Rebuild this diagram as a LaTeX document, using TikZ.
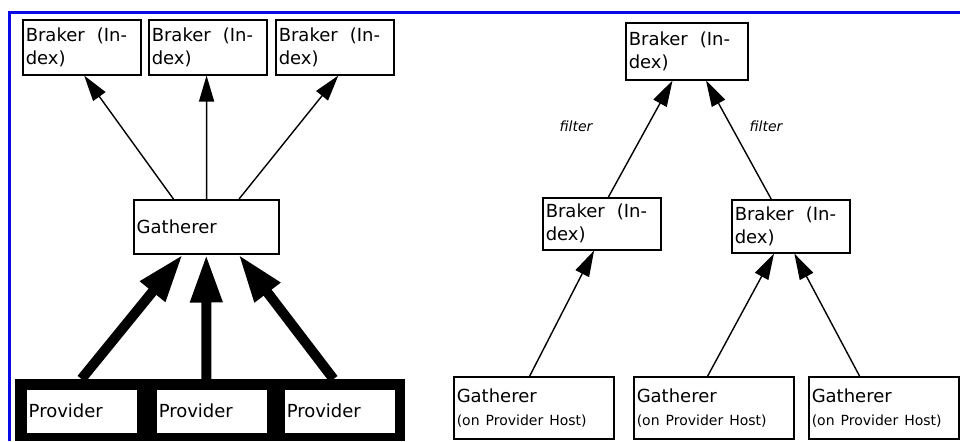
\documentclass[tikz,border=0pt]{standalone}
\usepackage{fontspec}
\usepackage{xcolor}
\usepackage{tikz}
\usetikzlibrary{positioning,calc,arrows.meta}
\newfontfamily\boxfont{DejaVu Sans}
\definecolor{frameblue}{RGB}{10,10,230}
\tikzset{
  box/.style={draw, line width=0.75pt, fill=white, inner sep=1.5pt, align=left,
    anchor=north west, font=\boxfont\fontsize{9}{11.5}\selectfont},
  brk/.style={box, text width=56pt, minimum height=27.5pt},
  gath/.style={box, text width=69.5pt, minimum height=27pt},
  prov/.style={box, text width=53pt, minimum height=22.5pt},
  host/.style={box, text width=77pt, minimum height=31pt},
  thinarrow/.style={line width=0.7pt, -{Triangle[length=13pt,width=7.5pt]}},
  thickarrow/.style={line width=5pt, -{Triangle[length=24pt,width=15pt]}},
  filterlbl/.style={font=\boxfont\itshape\fontsize{7}{8}\selectfont}
}

\begin{document}
\begin{tikzpicture}[x=0.5pt,y=-0.5pt]
    \useasboundingbox (0,0) rectangle (960,441);
    % Blue frame
    \draw[frameblue, line width=1.5pt] (9.5,441) -- (9.5,12) -- (960,12);

    % Left: brokers fed by one gatherer
    \node[brk] (b1) at (22,19) {Braker~ (In-\\dex)};
    \node[brk] (b2) at (148,19) {Braker~ (In-\\dex)};
    \node[brk] (b3) at (275,19) {Braker~ (In-\\dex)};
    \node[gath] (g) at (133,199) {Gatherer};

    % Providers in the thick frame
    \node[fill=black, inner sep=0, anchor=north west, minimum width=195pt, minimum height=31pt] (pframe) at (15,379) {};
    \node[prov] (p1) at (25,388) {Provider};
    \node[prov] (p2) at (155,388) {Provider};
    \node[prov] (p3) at (283,388) {Provider};

    \draw[thinarrow] ($(g.north west)!0.276!(g.north east)$) -- ($(b1.south west)!0.52!(b1.south east)$);
    \draw[thinarrow] ($(g.north west)!0.503!(g.north east)$) -- ($(b2.south west)!0.49!(b2.south east)$);
    \draw[thinarrow] ($(g.north west)!0.724!(g.north east)$) -- ($(b3.south west)!0.53!(b3.south east)$);

    \draw[thickarrow] ($(pframe.north west)!0.17!(pframe.north east)$) -- ($(g.south west)!0.34!(g.south east)$);
    \draw[thickarrow] ($(pframe.north west)!0.49!(pframe.north east)$) -- ($(g.south west)!0.50!(g.south east)$);
    \draw[thickarrow] ($(pframe.north west)!0.815!(pframe.north east)$) -- ($(g.south west)!0.72!(g.south east)$);

    % Right: broker hierarchy with gatherers on provider hosts
    \node[brk, text width=58pt, minimum height=28.5pt] (tb) at (625,22) {Braker~ (In-\\dex)};
    \node[brk, minimum height=26pt] (mb1) at (542,197) {Braker~ (In-\\dex)};
    \node[brk, minimum height=26.5pt] (mb2) at (731,199) {Braker~ (In-\\dex)};
    \node[host] (h1) at (453,376) {Gatherer\\{\fontsize{7}{9}\selectfont (on Provider Host)}};
    \node[host] (h2) at (633,376) {Gatherer\\{\fontsize{7}{9}\selectfont (on Provider Host)}};
    \node[host, text width=72pt] (h3) at (808,376) {Gatherer\\{\fontsize{7}{9}\selectfont (on Provider Host)}};

    \draw[thinarrow] ($(mb1.north west)!0.556!(mb1.north east)$) -- ($(tb.south west)!0.385!(tb.south east)$);
    \draw[thinarrow] ($(mb2.north west)!0.336!(mb2.north east)$) -- ($(tb.south west)!0.656!(tb.south east)$);
    \node[filterlbl] (f1) at (576,126) {filter};
    \node[filterlbl] (f2) at (766,126) {filter};

    \draw[thinarrow] ($(h1.north west)!0.475!(h1.north east)$) -- ($(mb1.south west)!0.436!(mb1.south east)$);
    \draw[thinarrow] ($(h2.north west)!0.4625!(h2.north east)$) -- ($(mb2.south west)!0.36!(mb2.south east)$);
    \draw[thinarrow] ($(h3.north west)!0.34!(h3.north east)$) -- ($(mb2.south west)!0.53!(mb2.south east)$);
\end{tikzpicture}
\end{document}
